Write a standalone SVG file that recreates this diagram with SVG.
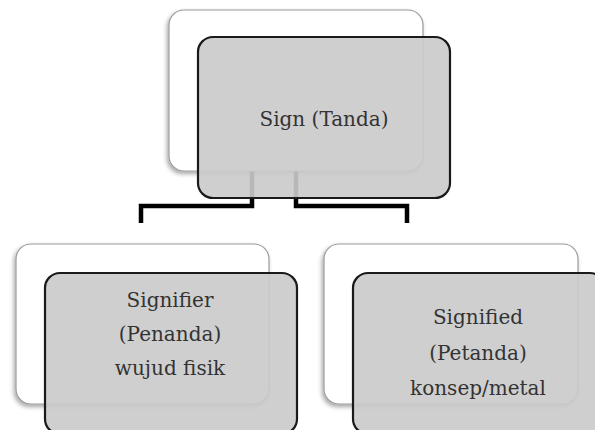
<svg xmlns="http://www.w3.org/2000/svg" width="595" height="430" viewBox="0 0 595 430">
<defs>
<filter id="sh" x="-10%" y="-10%" width="120%" height="125%">
<feDropShadow dx="-1.5" dy="2.5" stdDeviation="2" flood-color="#000" flood-opacity="0.35"/>
</filter>
</defs>
<style>
.back{fill:#ffffff;stroke:#9a9a9a;stroke-width:1.2;filter:url(#sh)}
.front{fill:#cacaca;fill-opacity:0.91;stroke:#1a1a1a;stroke-width:2.2}
.lbl{font-family:"DejaVu Serif","Liberation Serif",serif;font-size:20px;fill:#333333;text-anchor:middle}
.conn{fill:none;stroke:#000000;stroke-width:4.5;stroke-linejoin:miter}
</style>
<rect width="595" height="430" fill="#ffffff"/>
<g id="connectors">
<path class="conn" d="M252,171 V206 H141 V223"/>
<path class="conn" d="M296,171 V206 H407 V223"/>
</g>
<g id="sign">
<rect class="back" x="169" y="10" width="254" height="161" rx="15"/>
<rect class="front" x="198" y="37" width="252" height="161" rx="15"/>
<text class="lbl" x="324" y="126">Sign (Tanda)</text>
</g>
<g id="signifier">
<rect class="back" x="16" y="244" width="253" height="160" rx="15"/>
<rect class="front" x="45" y="273" width="252" height="161" rx="15"/>
<text class="lbl" x="170" y="307">Signifier</text>
<text class="lbl" x="170" y="341">(Penanda)</text>
<text class="lbl" x="170" y="375">wujud fisik</text>
</g>
<g id="signified">
<rect class="back" x="324" y="244" width="254" height="160" rx="15"/>
<rect class="front" x="353" y="273" width="252" height="161" rx="15"/>
<text class="lbl" x="478" y="324">Signified</text>
<text class="lbl" x="478" y="360">(Petanda)</text>
<text class="lbl" x="478" y="395">konsep/metal</text>
</g>
</svg>
